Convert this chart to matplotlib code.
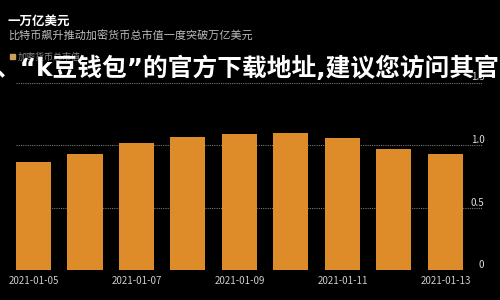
import matplotlib
matplotlib.use('Agg')
import matplotlib.pyplot as plt
import numpy as np

plt.rcParams['font.family'] = ['Noto Sans CJK SC', 'DejaVu Sans']

# data
dates = ['2021-01-05', '2021-01-06', '2021-01-07', '2021-01-08', '2021-01-09',
         '2021-01-10', '2021-01-11', '2021-01-12', '2021-01-13']
values = [0.864, 0.928, 1.016, 1.064, 1.088, 1.096, 1.056, 0.968, 0.928]
yticks = [0, 0.5, 1.0, 1.5]
yticklabels = ['0', '0.5', '1.0', '1.5']

title = '一万亿美元'
subtitle = '比特币飙升推动加密货币总市值一度突破万亿美元'
legend_label = '加密货币总市值'
overlay = '、“k豆钱包”的官方下载地址,建议您访问其官'

bar_color = '#DE8B29'

fig = plt.figure(figsize=(5, 3), dpi=100, facecolor='black')
ax = fig.add_axes([0.032, 0.1, 0.934, 0.625], facecolor='black')

x = np.arange(len(dates))
ax.bar(x, values, width=0.68, color=bar_color, zorder=2)
ax.set_xlim(-0.34, 8.73)
ax.set_ylim(0, 1.5)

# dotted grid lines behind the bars
ax.yaxis.grid(True, linestyle=(0, (1, 1)), color='#777777', linewidth=0.8, zorder=1)
ax.set_axisbelow(True)
for s in ax.spines.values():
    s.set_visible(False)

ax.yaxis.tick_right()
ax.set_yticks(yticks)
ax.set_yticklabels(yticklabels)
ax.tick_params(axis='y', length=0, pad=1, labelsize=7, labelcolor='#dddddd')
for lab in ax.get_yticklabels():
    lab.set_horizontalalignment('right')
    lab.set_verticalalignment('bottom')

ax.set_xticks(x[::2])
ax.set_xticklabels(dates[::2])
ax.tick_params(axis='x', length=0, pad=4, labelsize=7, labelcolor='#cccccc')

# header texts
fig.text(0.016, 0.93, title, color='white', fontsize=9, fontweight='bold', va='center')
fig.text(0.016, 0.88, subtitle, color='#bbbbbb', fontsize=8, va='center')
fig.patches.append(plt.Rectangle((0.02, 0.802), 0.009, 0.017, color='#c7a15a',
                                 transform=fig.transFigure, figure=fig))
fig.text(0.036, 0.81, legend_label, color='#888888', fontsize=6.5, va='center')

# big overlay text, narrow latin quotes as in the picture
fig.text(-0.01, 0.772, overlay, color='white', fontsize=17.8, fontweight='bold',
         va='center', ha='left', family=['DejaVu Sans', 'Noto Sans CJK SC'])

fig.savefig('out.png', dpi=100, facecolor='black')
